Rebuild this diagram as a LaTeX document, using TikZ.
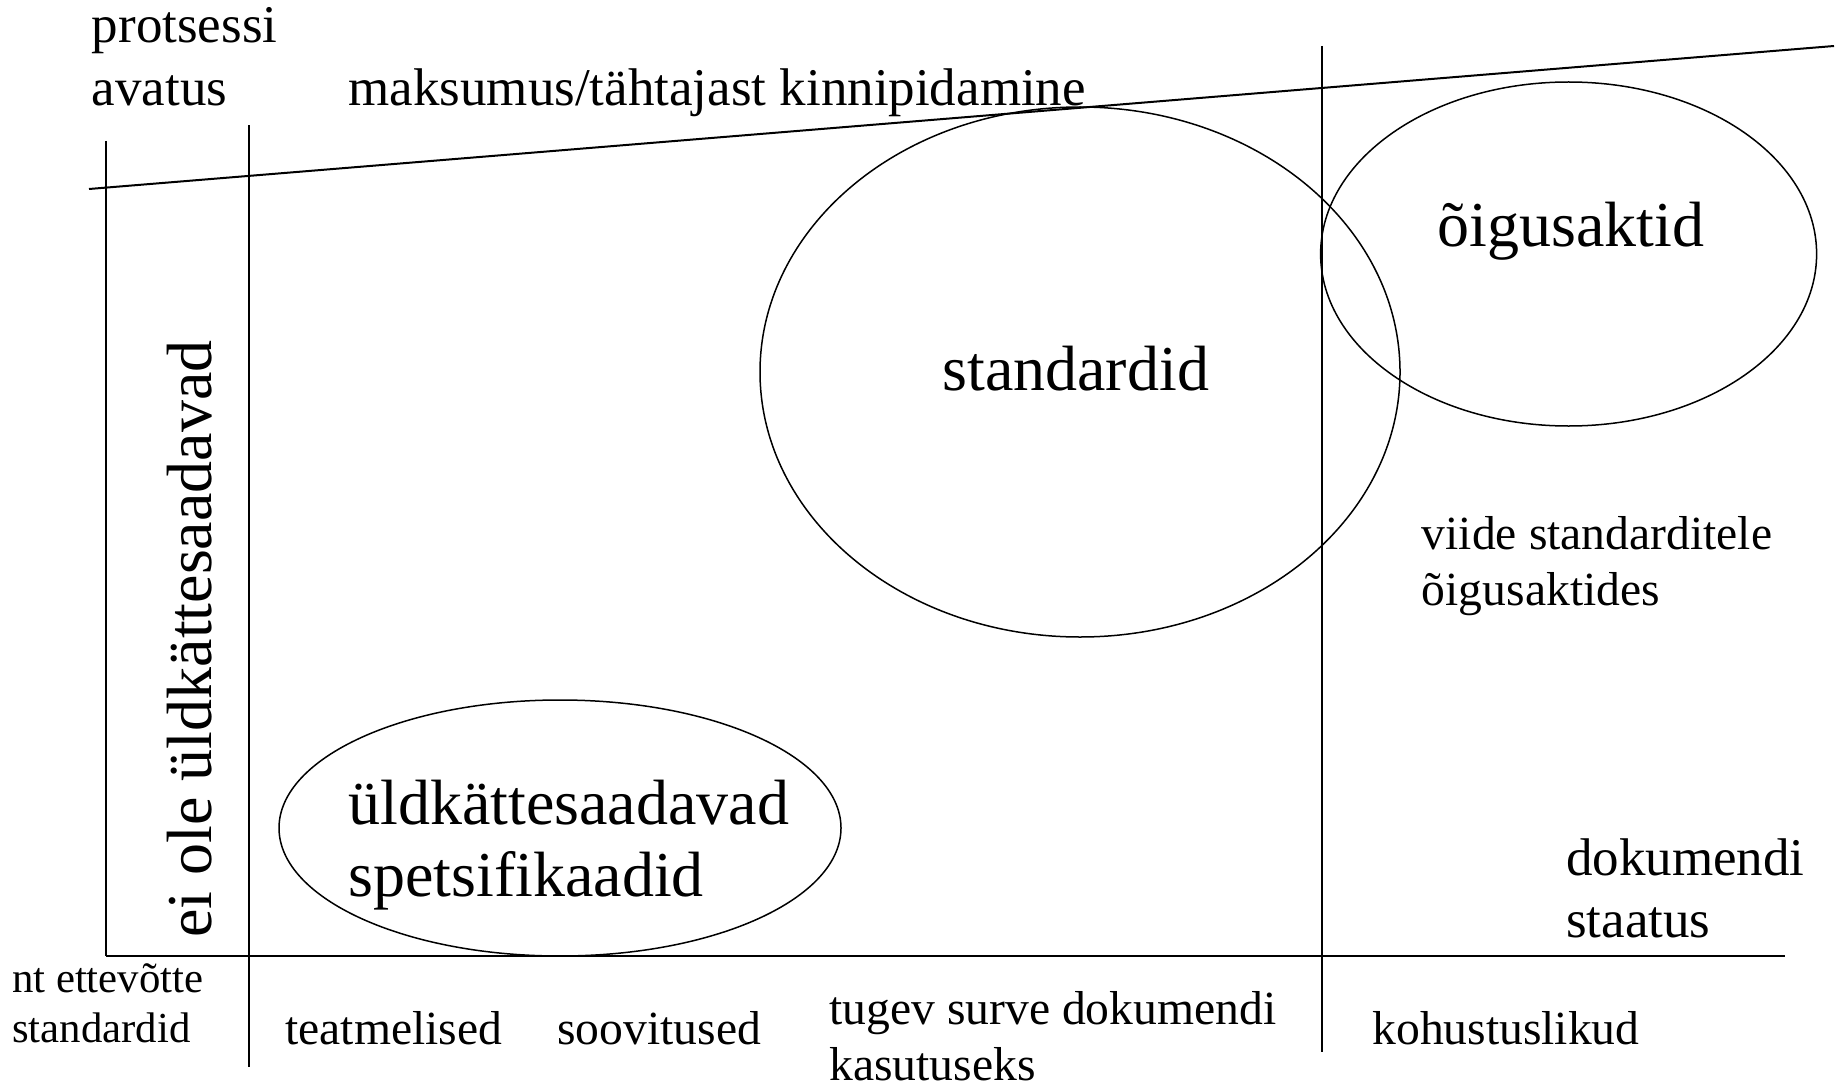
\documentclass[tikz,border=0pt]{standalone}
\usepackage{fontspec}
\setmainfont{Liberation Serif}
\usetikzlibrary{shapes.geometric}
\begin{document}
\begin{tikzpicture}[x=0.5pt,y=-0.5pt,
  rule/.style={line width=1pt},
  oval/.style={draw, ellipse, line width=0.75pt, inner sep=0pt},
  lbl/.style={inner sep=0pt, anchor=base west},
  big/.style={lbl, font=\fontsize{32}{38}\selectfont},
  med/.style={lbl, font=\fontsize{26.5}{32}\selectfont},
  sml/.style={lbl, font=\fontsize{23.8}{28}\selectfont},
  tiny/.style={lbl, font=\fontsize{21.4}{25}\selectfont}]
\useasboundingbox (0,0) rectangle (1839,1091);
\fill[white] (0,0) rectangle (1839,1091);
% axes and dividers
\coordinate (sl1) at (89,189);
\coordinate (sl2) at (1834,46);
\coordinate (v1t) at (105.5,141);
\coordinate (v1b) at (105.5,956);
\coordinate (v2t) at (248.6,125.5);
\coordinate (v2b) at (248.6,1067);
\coordinate (v3t) at (1321.5,46);
\coordinate (v3b) at (1321.5,1052);
\coordinate (hl) at (105.5,956);
\coordinate (hr) at (1785,956);
\draw[rule] (sl1) -- (sl2);
\draw[rule] (v1t) -- (v1b);
\draw[rule] (v2t) -- (v2b);
\draw[rule] (v3t) -- (v3b);
\draw[rule] (hl) -- (hr);
% ellipses
\node[oval, minimum width=320pt, minimum height=265pt] (stdE) at (1080,372) {};
\node[oval, minimum width=248pt, minimum height=172pt] (oigE) at (1568.6,254) {};
\node[oval, minimum width=281pt, minimum height=128pt] (uldE) at (560,828) {};
% texts
\node[med] (prot1) at (91.5,43) {protsessi};
\node[med] (prot2) at (91.5,105.6) {avatus};
\node[med] (maks) at (348,105.6) {maksumus/tähtajast kinnipidamine};
\node[big] (std) at (942,390) {standardid};
\node[big] (oig) at (1437,246) {õigusaktid};
\node[big] (uld1) at (348,824.5) {üldkättesaadavad};
\node[big] (uld2) at (348,896) {spetsifikaadid};
\node[big, rotate=90] (ei) at (211,938) {ei ole üldkättesaadavad};
\node[sml] (viide1) at (1421.5,549) {viide standarditele};
\node[sml] (viide2) at (1421.5,605) {õigusaktides};
\node[med] (dok1) at (1565.7,875) {dokumendi};
\node[med] (dok2) at (1565.7,937) {staatus};
\node[tiny] (nt1) at (11.7,992) {nt ettevõtte};
\node[tiny] (nt2) at (11.7,1042.6) {standardid};
\node[sml] (teat) at (285,1044) {teatmelised};
\node[sml] (soov) at (557,1044) {soovitused};
\node[sml] (tug1) at (829,1024) {tugev surve dokumendi};
\node[sml] (tug2) at (829,1080) {kasutuseks};
\node[sml] (koh) at (1372,1044) {kohustuslikud};
\end{tikzpicture}
\end{document}
